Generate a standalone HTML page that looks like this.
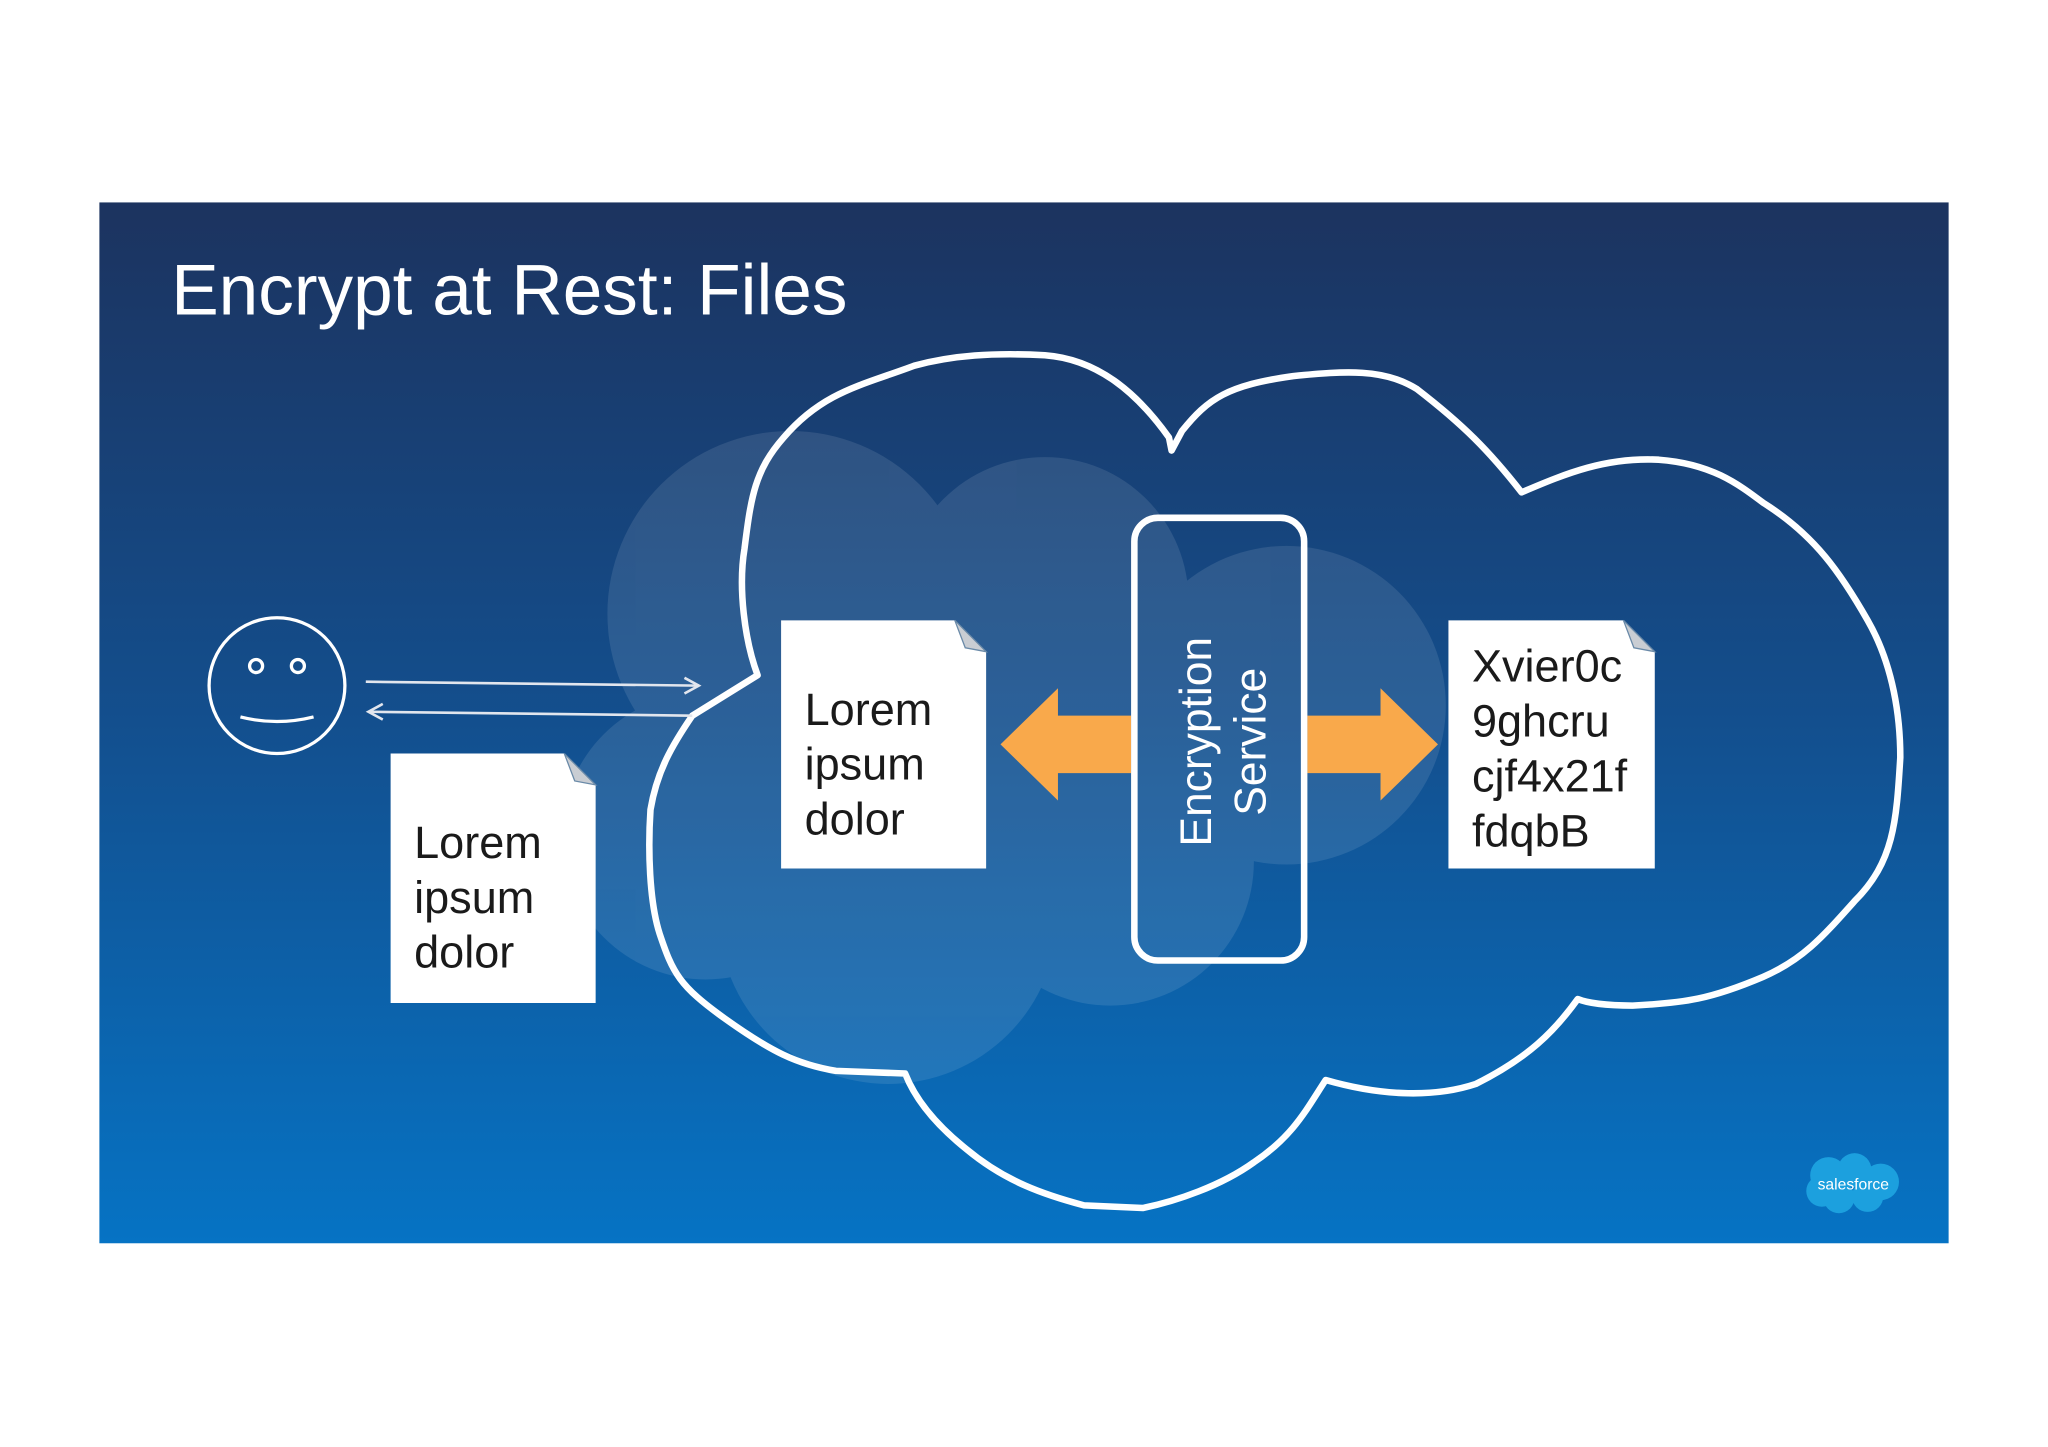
<!DOCTYPE html>
<html><head><meta charset="utf-8"><style>
html,body{margin:0;padding:0;background:#fff;}
svg{display:block;}
text{font-family:"Liberation Sans",Arial,sans-serif;}
</style></head><body>
<svg width="2048" height="1447" viewBox="0 0 1568 1108" xmlns="http://www.w3.org/2000/svg">
<defs>
<linearGradient id="bg" x1="0" y1="0" x2="0" y2="1">
<stop offset="0" stop-color="#1c335f"/>
<stop offset="0.5" stop-color="#134f8e"/>
<stop offset="1" stop-color="#0673c4"/>
</linearGradient>
</defs>
<rect x="0" y="0" width="1568" height="1108" fill="#fff"/>
<rect x="76" y="155" width="1416" height="797" fill="url(#bg)"/>
<text x="131" y="241" font-size="54.5" fill="#fff">Encrypt at Rest: Files</text>
<g fill="#ffffff" opacity="0.1">
<circle cx="605" cy="470" r="140"/>
<circle cx="800" cy="460" r="110"/>
<circle cx="985" cy="540" r="122"/>
<circle cx="680" cy="700" r="130"/>
<circle cx="850" cy="660" r="110"/>
<circle cx="540" cy="640" r="110"/>
<rect x="560" y="450" width="370" height="240"/>
</g>
<path d="M580,517 C570,490 565,450 570,420 C575,380 578,360 600,335 C630,300 660,295 700,280 C730,272 760,270 800,272 C840,275 870,300 895,335 L897,345 L905,330 C925,305 940,295 990,288 C1030,284 1060,282 1085,298 C1120,325 1140,345 1165,377 C1200,362 1230,350 1270,352 C1310,355 1330,370 1350,385 C1390,410 1410,440 1430,475 C1450,510 1455,550 1455,580 C1452,630 1450,660 1420,690 C1395,718 1380,735 1350,748 C1310,765 1290,768 1250,770 C1230,770 1215,768 1208,765 C1190,790 1170,810 1130,830 C1100,840 1060,840 1015,827 C1000,850 990,870 960,890 C935,908 900,920 875,925 L830,923 C800,915 770,905 740,880 C715,860 700,840 693,822 L640,820 C610,815 590,805 555,780 C520,755 515,745 505,715 C497,690 496,650 498,620 C503,590 515,570 530,548 L580,517 Z" fill="none" stroke="#fff" stroke-width="5" stroke-linejoin="round"/>
<circle cx="212" cy="525" r="52" fill="none" stroke="#fff" stroke-width="2.5"/>
<circle cx="196" cy="510" r="5" fill="none" stroke="#fff" stroke-width="2.5"/>
<circle cx="228" cy="510" r="5" fill="none" stroke="#fff" stroke-width="2.5"/>
<path d="M184,549 Q212,556 240,549" fill="none" stroke="#fff" stroke-width="2.5"/>
<g stroke="#e2e6ee" stroke-width="2" fill="none">
<line x1="280" y1="522" x2="535" y2="525"/>
<polyline points="524,519 535,525 524,531"/>
<line x1="530" y1="548" x2="282" y2="545"/>
<polyline points="293,539 282,545 293,551"/>
</g>
<g>
<path d="M299,577 L432,577 L456,601 L456,768 L299,768 Z" fill="#fff"/>
<path d="M432,577 L456,601 L440,598 Z" fill="#c9cdd3" stroke="#6a8aa8" stroke-width="1"/>
<text font-size="34.5" fill="#1a1a1a"><tspan x="317" y="657">Lorem</tspan><tspan x="317" y="699">ipsum</tspan><tspan x="317" y="741">dolor</tspan></text>
<path d="M598,475 L731,475 L755,499 L755,665 L598,665 Z" fill="#fff"/>
<path d="M731,475 L755,499 L739,496 Z" fill="#c9cdd3" stroke="#6a8aa8" stroke-width="1"/>
<text font-size="34.5" fill="#1a1a1a"><tspan x="616" y="555">Lorem</tspan><tspan x="616" y="597">ipsum</tspan><tspan x="616" y="639">dolor</tspan></text>
<path d="M1109,475 L1243,475 L1267,499 L1267,665 L1109,665 Z" fill="#fff"/>
<path d="M1243,475 L1267,499 L1251,496 Z" fill="#c9cdd3" stroke="#6a8aa8" stroke-width="1"/>
<text font-size="34.5" fill="#1a1a1a"><tspan x="1127" y="522">Xvier0c</tspan><tspan x="1127" y="564">9ghcru</tspan><tspan x="1127" y="606">cjf4x21f</tspan><tspan x="1127" y="648">fdqbB</tspan></text>
</g>
<polygon points="766,570 810,527 810,548 866,548 866,592 810,592 810,613" fill="#f9a94b"/>
<polygon points="1101,570 1057,527 1057,548 1001,548 1001,592 1057,592 1057,613" fill="#f9a94b"/>
<rect x="868.5" y="396.5" width="130" height="339" rx="18" fill="none" stroke="#fff" stroke-width="5"/>
<text font-size="34" fill="#fff" text-anchor="middle" transform="translate(927,568) rotate(-90)"><tspan x="0" y="0">Encryption</tspan><tspan x="0" y="42">Service</tspan></text>
<g fill="#1ca0de">
<circle cx="1400" cy="900" r="14"/><circle cx="1420" cy="896" r="13"/><circle cx="1440" cy="905" r="14"/>
<circle cx="1408" cy="917" r="12"/><circle cx="1430" cy="916" r="12"/><circle cx="1395" cy="912" r="12"/>
</g>
<text x="1419" y="911" font-size="12" fill="#fff" text-anchor="middle">salesforce</text>
</svg>
</body></html>
